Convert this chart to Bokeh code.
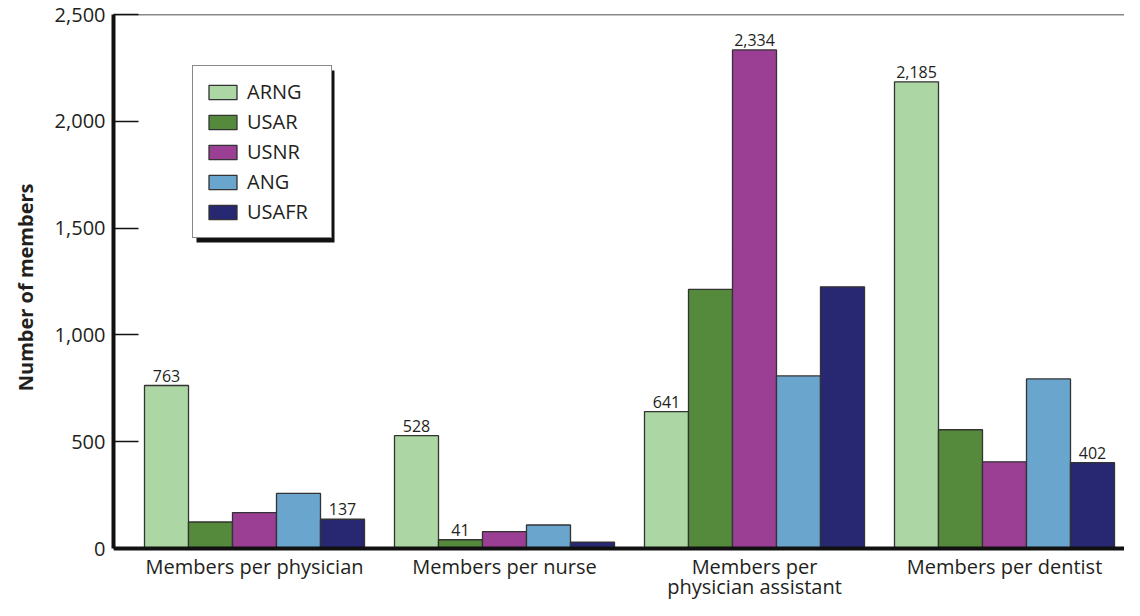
from bokeh.plotting import figure
from bokeh.models import (ColumnDataSource, FixedTicker, NumeralTickFormatter, Legend,
                          LegendItem, Span, BoxAnnotation, Range1d, Title)
from bokeh.transform import dodge
from bokeh.core.properties import value
from bokeh.embed import file_html
from bokeh.resources import INLINE

categories = ["Members per physician", "Members per nurse",
              "Members per physician assistant", "Members per dentist"]
series = ["ARNG", "USAR", "USNR", "ANG", "USAFR"]
colors = ["#acd7a4", "#558a3c", "#9b3f95", "#6aa5cd", "#272871"]

arng = [763, 528, 641, 2185]
usar = [124, 41, 1213, 556]
usnr = [168, 79, 2334, 406]
ang = [258, 110, 808, 794]
usafr = [137, 30, 1225, 402]

# which bars carry a value label
show_arng = [True, True, True, True]
show_usar = [False, True, False, False]
show_usnr = [False, False, True, False]
show_ang = [False, False, False, False]
show_usafr = [True, False, False, True]

y_ticks = [0, 500, 1000, 1500, 2000, 2500]

values = [arng, usar, usnr, ang, usafr]
shows = [show_arng, show_usar, show_usnr, show_ang, show_usafr]

FONT = "Open Sans"
TXT = "#231f20"
AX = "#111111"

W, H = 1124, 600
BL, BT = 113, 14                   # frame left / top border (px)
Z = 548                            # pixel row of the zero line
XPX = 250.0                        # px per category
X0 = 254                           # px of first category centre
YMAX = 2500
x_start = (BL - X0) / XPX
x_end = (W - X0) / XPX
y_start = -YMAX * (H - Z) / (Z - BT)   # frame runs below zero to hold category labels

p = figure(width=W, height=H, output_backend="svg", toolbar_location=None,
           x_range=Range1d(x_start, x_end), y_range=Range1d(y_start, YMAX),
           x_axis_location=None,
           min_border_left=BL, min_border_right=0, min_border_top=BT,
           min_border_bottom=0)
p.outline_line_color = None
p.grid.grid_line_color = None
p.background_fill_color = "white"

bw = 0.176
offsets = [-2 * bw, -bw, 0, bw, 2 * bw]
xs = list(range(len(categories)))

renderers = []
for name, vals, shw, col, off in zip(series, values, shows, colors, offsets):
    src = ColumnDataSource(dict(x=xs, top=vals))
    r = p.vbar(x=dodge("x", off, range=p.x_range), top="top", width=bw, bottom=0,
               source=src, fill_color=col, line_color="#333333", line_width=1.3)
    renderers.append((name, r))
    lsrc = ColumnDataSource(dict(x=[x for x, s in zip(xs, shw) if s],
                                 y=[v for v, s in zip(vals, shw) if s],
                                 lab=["{:,}".format(v) for v, s in zip(vals, shw) if s]))
    p.text(x=dodge("x", off, range=p.x_range), y="y", text="lab", source=lsrc,
           text_align="center", text_baseline="bottom", y_offset=-4,
           text_font=value(FONT), text_font_size="16px", text_color=TXT)

# zero baseline and top border
p.add_layout(Span(location=0, dimension="width", line_color=AX, line_width=4))
p.add_layout(Span(location=YMAX, dimension="width", line_color=AX, line_width=1.5))

# category labels (long one wraps onto a second line)
first_lines, second_lines = [], []
for c in categories:
    if c == "Members per physician assistant":
        first_lines.append("Members per")
        second_lines.append("physician assistant")
    else:
        first_lines.append(c)
        second_lines.append("")
csrc = ColumnDataSource(dict(x=xs, y=[0] * len(xs), l1=first_lines, l2=second_lines))
p.text(x="x", y="y", text="l1", source=csrc, y_offset=18, text_align="center",
       text_baseline="middle", text_font=value(FONT), text_font_size="20px",
       text_color=TXT)
p.text(x="x", y="y", text="l2", source=csrc, y_offset=38, text_align="center",
       text_baseline="middle", text_font=value(FONT), text_font_size="20px",
       text_color=TXT)

# y axis
ya = p.yaxis[0]
ya.ticker = FixedTicker(ticks=y_ticks)
ya.bounds = (0, YMAX)
ya.formatter = NumeralTickFormatter(format="0,0")
ya.axis_line_width = 4
ya.axis_line_color = AX
ya.major_tick_in = 25
ya.major_tick_out = 0
ya.major_tick_line_width = 1.5
ya.major_tick_line_color = AX
ya.minor_tick_line_color = None
ya.major_label_text_font = FONT
ya.major_label_text_font_size = "20px"
ya.major_label_text_color = TXT
ya.major_label_standoff = 8

ytitle = Title(text="Number of members", align="right", offset=169,
               vertical_align="top", standoff=21,
               text_font=FONT, text_font_size="20px", text_font_style="bold",
               text_color=TXT)
p.add_layout(ytitle, "left")

# legend drop shadow (pixel box converted into data space)
def px_to_x(px):
    return (px - X0) / XPX
def py_to_y(py):
    return (Z - py) * YMAX / (Z - BT)
p.add_layout(BoxAnnotation(left=px_to_x(196), right=px_to_x(334),
                           bottom=py_to_y(242), top=py_to_y(70),
                           fill_color=AX, fill_alpha=1.0, line_color=None,
                           level="annotation"))

legend = Legend(items=[LegendItem(label=n, renderers=[r]) for n, r in renderers],
                location=(192 - BL, H - 238), orientation="vertical",
                glyph_width=35, glyph_height=18, label_height=18, label_width=72,
                spacing=3, padding=12, margin=0, label_standoff=7,
                label_text_font=FONT, label_text_font_size="20px",
                label_text_color=TXT,
                border_line_color=AX, border_line_width=1.5,
                background_fill_color="white", background_fill_alpha=1.0)
p.add_layout(legend, "center")

open("out.html", "w").write(file_html(p, INLINE))
